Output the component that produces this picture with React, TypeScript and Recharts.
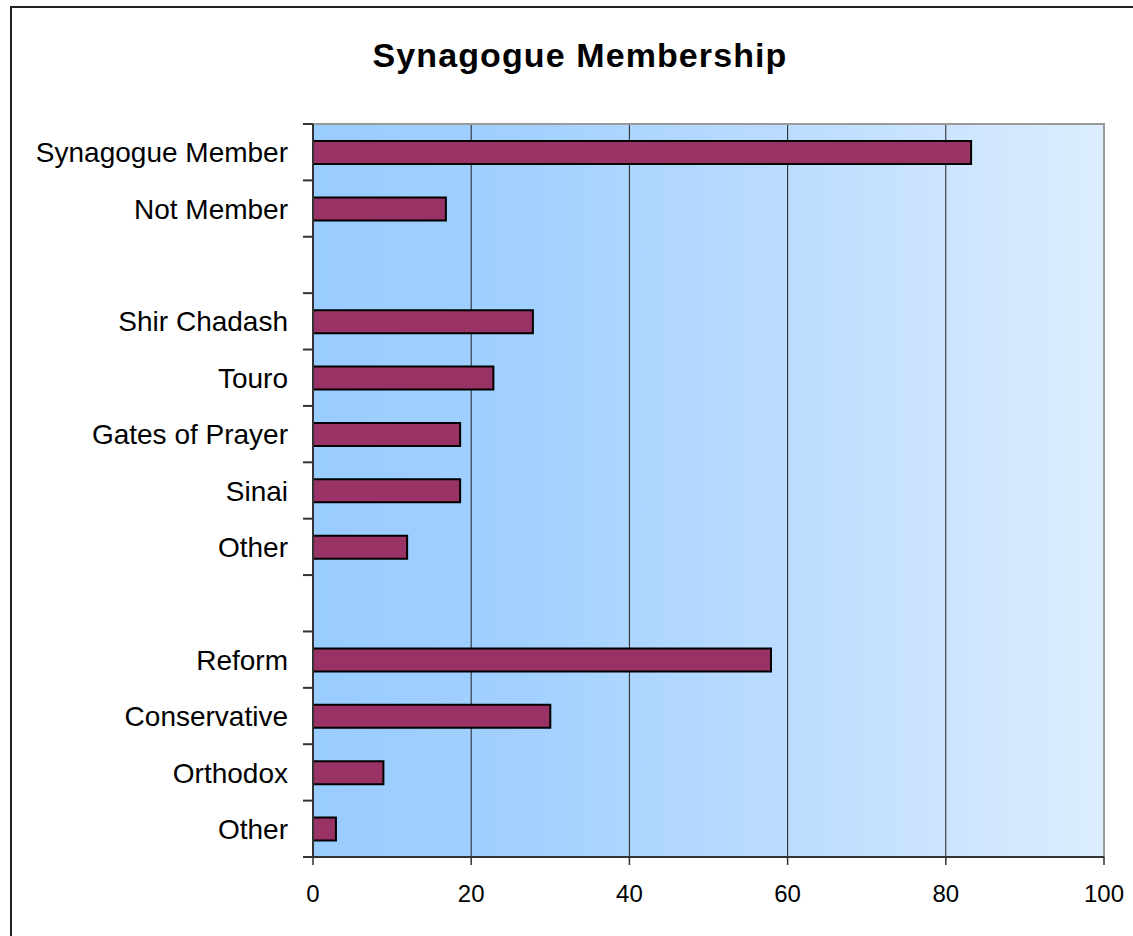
import React from 'react';
import { BarChart, Bar, XAxis, YAxis, CartesianGrid, ReferenceArea } from 'recharts';

const categories = [
  'Synagogue Member',
  'Not Member',
  '',
  'Shir Chadash',
  'Touro',
  'Gates of Prayer',
  'Sinai',
  'Other',
  '',
  'Reform',
  'Conservative',
  'Orthodox',
  'Other',
];
const percentages: (number | null)[] = [83.2, 16.8, null, 27.8, 22.8, 18.6, 18.6, 11.9, null, 57.9, 30.0, 8.9, 2.9];
const xTicks = [0, 20, 40, 60, 80, 100];

const data = categories.map((label, i) => ({ key: `row${i}`, label, value: percentages[i] }));

const W = 1133;
const H = 936;
const margin = { top: 124, right: 29, bottom: 19, left: 13 };
const yAxisWidth = 300;
const xAxisHeight = 60;
const plotLeft = margin.left + yAxisWidth;
const band = (H - margin.top - margin.bottom - xAxisHeight) / categories.length;
const font = '"Liberation Sans", Arial, sans-serif';

function CategoryTick(props: any) {
  const { x, y, index } = props;
  const last = index === categories.length - 1;
  return (
    <g>
      <text x={x} y={y} dy="0.36em" textAnchor="end" fontSize={28} fontFamily={font} fill="#000">
        {categories[index]}
      </text>
      <line x1={plotLeft - 10} x2={plotLeft} y1={y - band / 2} y2={y - band / 2} stroke="#333" strokeWidth={2} />
      {last && (
        <line x1={plotLeft - 10} x2={plotLeft} y1={y + band / 2} y2={y + band / 2} stroke="#333" strokeWidth={2} />
      )}
    </g>
  );
}

export default function App() {
  return (
    <div style={{ position: 'absolute', left: 0, top: 0, width: W, height: H, overflow: 'hidden', background: '#fff' }}>
      <div
        style={{
          position: 'absolute',
          left: 10,
          top: 6,
          width: 1300,
          height: 1100,
          border: '2px solid #222',
          boxSizing: 'border-box',
        }}
      />
      <svg width={W} height={110} style={{ position: 'absolute', left: 0, top: 0 }}>
        <text x={580} y={67} textAnchor="middle" fontSize={34} fontWeight="bold" fontFamily={font} letterSpacing={1.1}>
          Synagogue Membership
        </text>
      </svg>
      <div style={{ position: 'absolute', left: 0, top: 0 }}>
        <BarChart width={W} height={H} data={data} layout="vertical" margin={margin}>
          <defs>
            <linearGradient id="plotBg" x1="0" y1="0" x2="1" y2="0">
              <stop offset="0%" stopColor="#99ccff" />
              <stop offset="25%" stopColor="#a1d0ff" />
              <stop offset="60%" stopColor="#bcdcff" />
              <stop offset="100%" stopColor="#dcedff" />
            </linearGradient>
          </defs>
          <CartesianGrid horizontal={false} stroke="#222" strokeWidth={1} fill="url(#plotBg)" fillOpacity={1} />
          <ReferenceArea x1={0} x2={100} fill="none" stroke="#9a9a9a" strokeWidth={2} />
          <XAxis
            type="number"
            domain={[0, 100]}
            ticks={xTicks}
            height={xAxisHeight}
            tickSize={8}
            tickMargin={20}
            axisLine={{ stroke: '#333', strokeWidth: 2 }}
            tickLine={{ stroke: '#333', strokeWidth: 1.5 }}
            tick={{ fontSize: 24, fill: '#000', fontFamily: font }}
          />
          <YAxis
            type="category"
            dataKey="key"
            width={yAxisWidth}
            tickSize={10}
            tickMargin={15}
            tickLine={false}
            axisLine={{ stroke: '#333', strokeWidth: 2 }}
            tick={<CategoryTick />}
            interval={0}
          />
          <Bar dataKey="value" barSize={23} fill="#993366" stroke="#000" strokeWidth={2} isAnimationActive={false} />
        </BarChart>
      </div>
    </div>
  );
}
